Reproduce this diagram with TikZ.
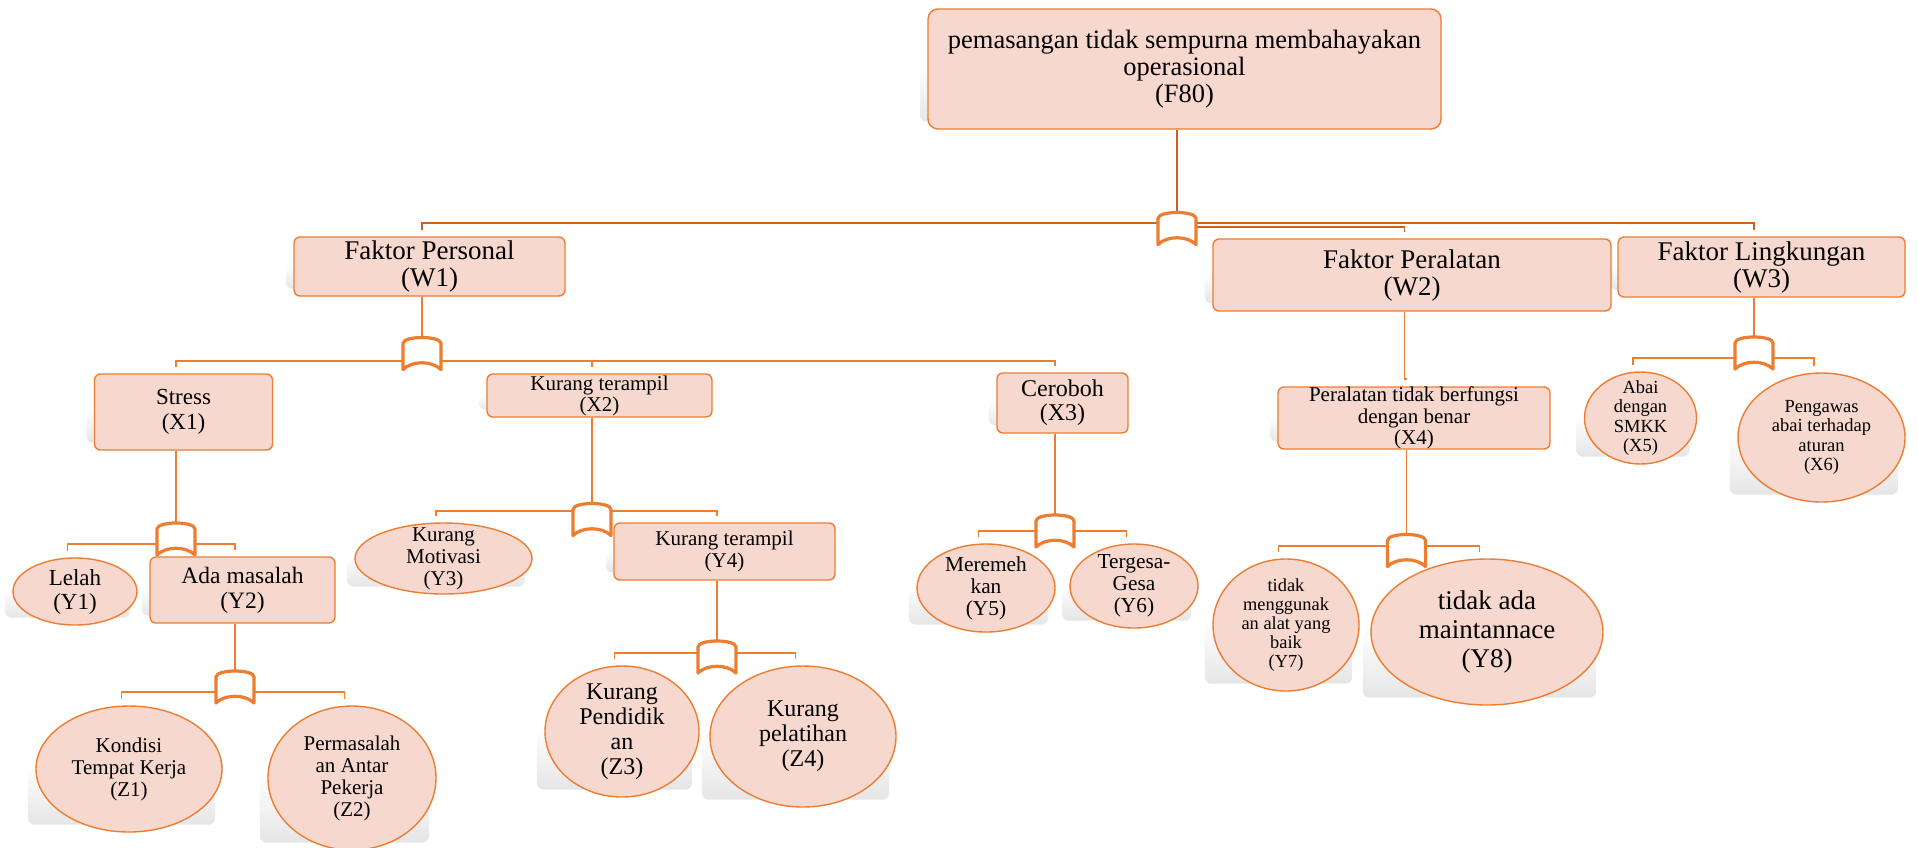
\documentclass[tikz,border=0pt]{standalone}
\usepackage{fontspec}
\setmainfont{Liberation Serif}
\usetikzlibrary{calc,shapes.geometric}
\pgfdeclarelayer{paper}
\pgfdeclarelayer{background}
\pgfsetlayers{paper,background,main}

\definecolor{peach}{HTML}{F7D8CE}
\definecolor{edge}{HTML}{ED7D31}
\definecolor{darkedge}{HTML}{C9621C}
\pgfdeclareverticalshading{fade}{100bp}{color(0bp)=(black!16); color(35bp)=(black!8); color(80bp)=(white); color(100bp)=(white)}

\newcommand\fs[2]{\fontsize{#1}{#2}\selectfont}

% soft grey shadow behind a node, offset up and to the left
\newcommand\castshadow[1]{%
  \begin{pgfonlayer}{background}
    \shade[shading=fade, rounded corners=7pt]
      ($(#1.west |- #1.center)+(-7.5,0)$) rectangle ($(#1.east |- #1.south)+(-7.5,-8)$);
  \end{pgfonlayer}}

% OR-gate symbol drawn over its placeholder node
\newcommand\orgate[1]{%
  \draw[gatebody]
    ($(#1.center)+(-19,-10)$) .. controls ($(#1.center)+(-19,-18)$) and ($(#1.center)+(19,-18)$) .. ($(#1.center)+(19,-10)$)
    -- ($(#1.center)+(19,16)$) .. controls ($(#1.center)+(10,7)$) and ($(#1.center)+(-10,7)$) .. ($(#1.center)+(-19,16)$)
    -- cycle;}

\tikzset{
  wh/.style 2 args={minimum width=#1pt, minimum height=#2pt},
  card/.style={rectangle, rounded corners=6pt, draw=edge, line width=1.4pt, fill=peach, inner sep=0pt},
  oval/.style={ellipse, draw=edge, line width=1.4pt, fill=peach, inner sep=0pt},
  txt/.style={align=center, text=black, inner sep=0pt},
  conn/.style={draw=edge, line width=1.8pt},
  topconn/.style={draw=darkedge, line width=1.8pt},
  gatenode/.style={inner sep=0pt, minimum width=38pt, minimum height=32pt},
  gatebody/.style={draw=edge, line width=3.2pt, fill=white, line join=round},
}

\begin{document}
\begin{tikzpicture}[x=1pt, y=-1pt]
\begin{pgfonlayer}{paper}
  \fill[white] (0,0) rectangle (1918,847);
\end{pgfonlayer}
\useasboundingbox (0,0) rectangle (1918,847);

% ---------- boxes and ovals ----------
\node[card, wh={513}{120}, rounded corners=10pt, label={[txt,font=\fs{26.5}{27}]center:pemasangan tidak sempurna membahayakan\\operasional\\(F80)}] (f80) at (1184.5,69) {};

\node[card, wh={271}{59}, label={[txt,font=\fs{27}{27}]center:Faktor Personal\\(W1)}] (w1) at (429.5,266.5) {};
\node[card, wh={398}{72}, label={[txt,font=\fs{27}{27}]center:Faktor Peralatan\\(W2)}] (w2) at (1412,275) {};
\node[card, wh={287}{60}, label={[txt,font=\fs{27}{27}]center:Faktor Lingkungan\\(W3)}] (w3) at (1761.5,267) {};

\node[card, wh={178}{76}, label={[txt,font=\fs{23}{25}]center:Stress\\(X1)}] (x1) at (183.5,412) {};
\node[card, wh={225}{43}, label={[txt,font=\fs{21}{21}]center:Kurang terampil\\(X2)}] (x2) at (599.5,395.5) {};
\node[card, wh={131}{60}, label={[txt,font=\fs{24}{24}]center:Ceroboh\\(X3)}] (x3) at (1062.5,403) {};
\node[card, wh={272}{62}, label={[txt,font=\fs{21}{21.5}]center:Peralatan tidak berfungsi\\dengan benar\\(X4)}] (x4) at (1414,418) {};
\node[oval, wh={112}{92}, label={[txt,font=\fs{18.5}{19.3}]center:Abai\\dengan\\SMKK\\(X5)}] (x5) at (1640.5,418) {};
\node[oval, wh={167}{129}, label={[txt,font=\fs{18.5}{19.5}]center:Pengawas\\abai terhadap\\aturan\\(X6)}] (x6) at (1821.5,437.5) {};

\node[oval, wh={124}{67}, label={[txt,font=\fs{23}{24}]center:Lelah\\(Y1)}] (y1) at (75,591.5) {};
\node[card, wh={185}{66}, label={[txt,font=\fs{23.5}{25}]center:Ada masalah\\(Y2)}] (y2) at (242.5,590) {};
\node[oval, wh={177}{71}, label={[txt,font=\fs{21}{22}]center:Kurang\\Motivasi\\(Y3)}] (y3) at (443.5,558.5) {};
\node[card, wh={221}{57}, label={[txt,font=\fs{21}{22}]center:Kurang terampil\\(Y4)}] (y4) at (724.5,551.5) {};
\node[oval, wh={138}{88}, label={[txt,font=\fs{21.3}{22}]center:Meremeh\\kan\\(Y5)}] (y5) at (986,588) {};
\node[oval, wh={128}{84}, label={[txt,font=\fs{21.3}{22}]center:Tergesa-\\Gesa\\(Y6)}] (y6) at (1134,586) {};
\node[oval, wh={146}{132}, label={[txt,font=\fs{18.4}{19}]center:tidak\\menggunak\\an alat yang\\baik\\(Y7)}] (y7) at (1286,625) {};
\node[oval, wh={232}{146}, label={[txt,font=\fs{27}{29}]center:tidak ada\\maintannace\\(Y8)}] (y8) at (1487,632) {};

\node[oval, wh={186}{126}, label={[txt,font=\fs{21}{22}]center:Kondisi\\Tempat Kerja\\(Z1)}] (z1) at (129,769) {};
\node[oval, wh={168}{144}, label={[txt,font=\fs{21}{22}]center:Permasalah\\an Antar\\Pekerja\\(Z2)}] (z2) at (352,778) {};
\node[oval, wh={154}{131}, label={[txt,font=\fs{24}{25}]center:Kurang\\Pendidik\\an\\(Z3)}] (z3) at (622,731.5) {};
\node[oval, wh={186}{141}, label={[txt,font=\fs{24}{25}]center:Kurang\\pelatihan\\(Z4)}] (z4) at (803,736.5) {};

% ---------- shadows ----------
\foreach \n in {f80,w1,w2,w3,x1,x2,x3,x4,x5,x6,y1,y2,y3,y4,y5,y6,y7,y8,z1,z2,z3,z4}{\castshadow{\n}}

% ---------- gate placeholders and bar levels ----------
\node[gatenode] (g0) at (1177,228.5) {};
\node[gatenode] (g1) at (422,353.5) {};
\node[gatenode] (g2) at (1754,353) {};
\node[gatenode] (g3) at (176,539) {};
\node[gatenode] (g4) at (592,519.5) {};
\node[gatenode] (g5) at (1055,531) {};
\node[gatenode] (g6) at (235,687) {};
\node[gatenode] (g7) at (717,657) {};
\node[gatenode] (g8) at (1406.5,550.5) {};

\coordinate (b0) at (1177,223);
\coordinate (b0w) at (1177,227);
\coordinate (b1) at (422,361);
\coordinate (b2) at (1754,358);
\coordinate (b3) at (176,544);
\coordinate (b4) at (592,511);
\coordinate (b5) at (1055,531);
\coordinate (b6) at (235,692);
\coordinate (b7) at (717,653);
\coordinate (b8) at (1406.5,546);

% ---------- connectors ----------
% top level
\draw[topconn] (f80.south -| g0) -- (g0.north);
\draw[topconn] ($(w1.north)+(-7.5,-6)$) |- (b0) -| ($(w3.north)+(-7.5,-6)$);
\draw[topconn] (b0w) -| ($(w2.north)+(-7.5,-6)$);

% Faktor Personal
\draw[conn] (w1.south -| g1) -- (g1.north);
\draw[conn] ($(x1.north)+(-7.5,-6)$) |- (b1) -| ($(x3.north)+(-7.5,-6)$);
\draw[conn] (b1 -| g4) -- ($(x2.north)+(-7.5,-6)$);

% Faktor Peralatan
\draw[conn] ($(w2.south)+(-7.5,0)$) |- ($(x4.north)+(-7.5,-7)$);

% Faktor Lingkungan
\draw[conn] (w3.south -| g2) -- (g2.north);
\draw[conn] ($(x5.north)+(-7.5,-6)$) |- (b2) -| ($(x6.north)+(-7.5,-6)$);

% Stress
\draw[conn] (x1.south -| g3) -- (g3.north);
\draw[conn] ($(y1.north)+(-7.5,-6)$) |- (b3) -| ($(y2.north)+(-7.5,-6)$);

% Kurang terampil (X2)
\draw[conn] (x2.south -| g4) -- (g4.north);
\draw[conn] ($(y3.north)+(-7.5,-6)$) |- (b4) -| ($(y4.north)+(-7.5,-6)$);

% Ceroboh
\draw[conn] (x3.south -| g5) -- (g5.north);
\draw[conn] ($(y5.north)+(-7.5,-6)$) |- (b5) -| ($(y6.north)+(-7.5,-6)$);

% Ada masalah
\draw[conn] (y2.south -| g6) -- (g6.north);
\draw[conn] ($(z1.north)+(-7.5,-6)$) |- (b6) -| ($(z2.north)+(-7.5,-6)$);

% Kurang terampil (Y4)
\draw[conn] (y4.south -| g7) -- (g7.north);
\draw[conn] ($(z3.north)+(-7.5,-6)$) |- (b7) -| ($(z4.north)+(-7.5,-6)$);

% Peralatan tidak berfungsi
\draw[conn] (x4.south -| g8) -- (g8.north);
\draw[conn] ($(y7.north)+(-7.5,-6)$) |- (b8) -| ($(y8.north)+(-7.5,-6)$);

% ---------- gates ----------
\foreach \g in {g0,g1,g2,g3,g4,g5,g6,g7,g8}{\orgate{\g}}

\end{tikzpicture}
\end{document}
